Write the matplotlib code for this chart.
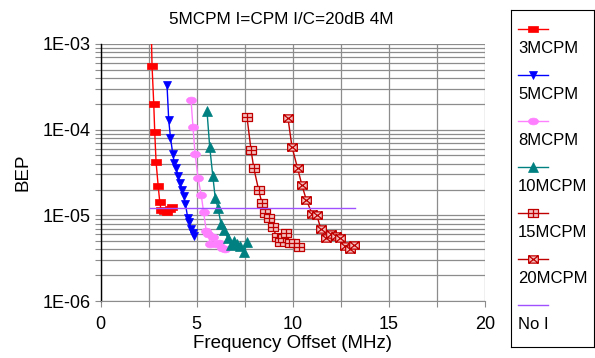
import numpy as np
import matplotlib
matplotlib.use("Agg")
import matplotlib.pyplot as plt
from matplotlib.path import Path
from matplotlib.ticker import FixedLocator, LogLocator, NullFormatter, FuncFormatter

plt.rcParams['font.family'] = ['Liberation Sans', 'DejaVu Sans']

title = "5MCPM I=CPM I/C=20dB 4M"
xlabel = "Frequency Offset (MHz)"
ylabel = "BEP"

f_3 = [2.63, 2.68, 2.77, 2.82, 2.89, 3.0, 3.08, 3.15, 3.3, 3.45, 3.6, 3.7]
v_3 = [2.0e-3, 5.6e-4, 2.0e-4, 9.5e-5, 4.2e-5, 2.2e-5, 1.45e-5, 1.15e-5, 1.12e-5, 1.1e-5, 1.2e-5, 1.25e-5]

f_5 = [3.46, 3.55, 3.64, 3.76, 3.84, 3.93, 4.03, 4.12, 4.24, 4.33, 4.42, 4.54, 4.62, 4.70, 4.80, 4.88]
v_5 = [3.3e-4, 1.28e-4, 8.1e-5, 5.2e-5, 4.1e-5, 3.6e-5, 2.9e-5, 2.4e-5, 2.0e-5, 1.67e-5, 1.34e-5,
       9.3e-6, 8.3e-6, 7.0e-6, 6.2e-6, 5.8e-6]

f_8 = [4.71, 4.81, 4.92, 5.07, 5.24, 5.36, 5.50, 5.60, 5.72, 5.85, 6.00, 6.15, 6.30, 6.50]
v_8 = [2.2e-4, 1.08e-4, 5.2e-5, 2.75e-5, 1.72e-5, 1.1e-5, 6.6e-6, 6.0e-6, 4.6e-6, 5.6e-6,
       4.6e-6, 4.7e-6, 4.2e-6, 4.0e-6]

f_10 = [5.54, 5.68, 5.84, 5.97, 6.11, 6.27, 6.41, 6.63, 6.79, 6.95, 7.10, 7.25, 7.48, 7.62]
v_10 = [1.64e-4, 6.3e-5, 2.9e-5, 1.58e-5, 1.22e-5, 7.9e-6, 6.7e-6, 5.4e-6, 4.5e-6, 5.0e-6,
        4.6e-6, 4.4e-6, 3.7e-6, 4.9e-6]

f_15 = [7.62, 7.83, 7.97, 8.22, 8.40, 8.55, 8.75, 8.95, 9.17, 9.35, 9.47, 9.65, 9.85, 10.05, 10.35]
v_15 = [1.4e-4, 5.8e-5, 3.6e-5, 2.0e-5, 1.38e-5, 1.07e-5, 9.3e-6, 7.3e-6, 5.6e-6, 4.9e-6,
        5.5e-6, 6.3e-6, 4.8e-6, 4.8e-6, 4.3e-6]

f_20 = [9.75, 9.96, 10.25, 10.48, 10.70, 11.00, 11.25, 11.46, 11.74, 12.00, 12.24, 12.47, 12.73, 12.99, 13.21]
v_20 = [1.37e-4, 6.3e-5, 3.55e-5, 2.24e-5, 1.53e-5, 1.05e-5, 1.0e-5, 7.0e-6, 5.5e-6, 6.0e-6,
        5.8e-6, 5.4e-6, 4.4e-6, 4.0e-6, 4.5e-6]

f_noi = [2.6, 13.25]
v_noi = [1.22e-5, 1.22e-5]

labels = ["3MCPM", "5MCPM", "8MCPM", "10MCPM", "15MCPM", "20MCPM", "No I"]

x_ticks = [0, 5, 10, 15, 20]
y_ticks = [1e-6, 1e-5, 1e-4, 1e-3]

# --- custom marker paths ---
rect = Path([(-1, -0.72), (1, -0.72), (1, 0.72), (-1, 0.72), (-1, -0.72)],
            [Path.MOVETO, Path.LINETO, Path.LINETO, Path.LINETO, Path.CLOSEPOLY])
circ = Path.unit_circle()
ellipse = Path(circ.vertices * np.array([1.0, 0.68]), circ.codes)
box_plus = Path([(-1, -0.75), (1, -0.75), (1, 0.75), (-1, 0.75), (-1, -0.75),
                 (-1, 0), (1, 0), (0, -0.75), (0, 0.75)],
                [Path.MOVETO, Path.LINETO, Path.LINETO, Path.LINETO, Path.CLOSEPOLY,
                 Path.MOVETO, Path.LINETO, Path.MOVETO, Path.LINETO])
box_x = Path([(-1, -0.75), (1, -0.75), (1, 0.75), (-1, 0.75), (-1, -0.75),
              (-1, -0.75), (1, 0.75), (-1, 0.75), (1, -0.75)],
             [Path.MOVETO, Path.LINETO, Path.LINETO, Path.LINETO, Path.CLOSEPOLY,
              Path.MOVETO, Path.LINETO, Path.MOVETO, Path.LINETO])

colors = ['#ff0000', '#0000ff', '#ff80ff', '#008080', '#c00000', '#c00000', '#a050ff']
markers = [
    dict(marker=rect, ms=6.5, mfc='#ff0000', mec='#ff0000', mew=0.5),
    dict(marker='v', ms=6.2, mfc='#0000ff', mec='#0000ff', mew=0.5),
    dict(marker=ellipse, ms=7.2, mfc='#ff80ff', mec='#ff80ff', mew=0.5),
    dict(marker='^', ms=6.6, mfc='#008080', mec='#008080', mew=0.5),
    dict(marker=box_plus, ms=7.0, mfc='#f4c0c0', mec='#c00000', mew=0.9),
    dict(marker=box_x, ms=7.0, mfc='#f4c0c0', mec='#c00000', mew=0.9),
    None,
]

series = [(f_3, v_3), (f_5, v_5), (f_8, v_8), (f_10, v_10), (f_15, v_15), (f_20, v_20), (f_noi, v_noi)]

W, H = 595, 358
fig = plt.figure(figsize=(W / 100, H / 100), dpi=100)
ax = fig.add_axes([100.5 / W, 1 - 301 / H, 384.5 / W, 257 / H])

ax.set_yscale('log')
ax.set_xlim(0, 20)
ax.set_ylim(1e-6, 1e-3)

grid_c = '#8c8c8c'
ax.xaxis.set_major_locator(FixedLocator(x_ticks))
ax.xaxis.set_minor_locator(FixedLocator([2.5, 7.5, 12.5, 17.5]))
ax.yaxis.set_major_locator(FixedLocator(y_ticks))
ax.yaxis.set_minor_locator(LogLocator(base=10, subs=np.arange(2, 10)))
ax.yaxis.set_minor_formatter(NullFormatter())
ax.yaxis.set_major_formatter(FuncFormatter(lambda v, p: "1E-%02d" % round(-np.log10(v))))
ax.grid(True, which='both', axis='both', color=grid_c, lw=0.9)
ax.set_axisbelow(True)

ax.tick_params(axis='both', which='both', direction='out', color=grid_c, length=4, width=0.8,
               labelsize=13, labelcolor='black', pad=3)
ax.tick_params(axis='x', which='major', pad=7)
for s in ['top', 'right']:
    ax.spines[s].set_visible(False)
ax.spines['bottom'].set_color(grid_c)
ax.spines['left'].set_color('black')
ax.spines['left'].set_linewidth(1.0)

for (fx, vy), c, mk in zip(series, colors, markers):
    kw = mk if mk is not None else {}
    ax.plot(fx, vy, lw=1.0, color=c, **kw)

fig.text(281 / W, 1 - 19.5 / H, title, fontsize=12.3, ha='center', va='center')
ax.set_xlabel(xlabel, fontsize=13.5, labelpad=1)
ax.set_ylabel(ylabel, fontsize=13.5, labelpad=8)

# --- legend box ---
lax = fig.add_axes([511 / W, 1 - 347 / H, 83 / W, 337 / H])
lax.set_xlim(511, 594)
lax.set_ylim(347, 10)
lax.set_xticks([])
lax.set_yticks([])
for s in lax.spines.values():
    s.set_color('black')
    s.set_linewidth(0.8)
for i, (lab, c, mk) in enumerate(zip(labels, colors, markers)):
    yl = 29 + 46 * i
    lax.plot([518, 548], [yl, yl], lw=1.0, color=c)
    if mk is not None:
        lax.plot([533], [yl], ls='none', **mk)
    lax.text(518, yl + 20, lab, fontsize=12, va='center', ha='left')

fig.savefig("out.png", dpi=100)
